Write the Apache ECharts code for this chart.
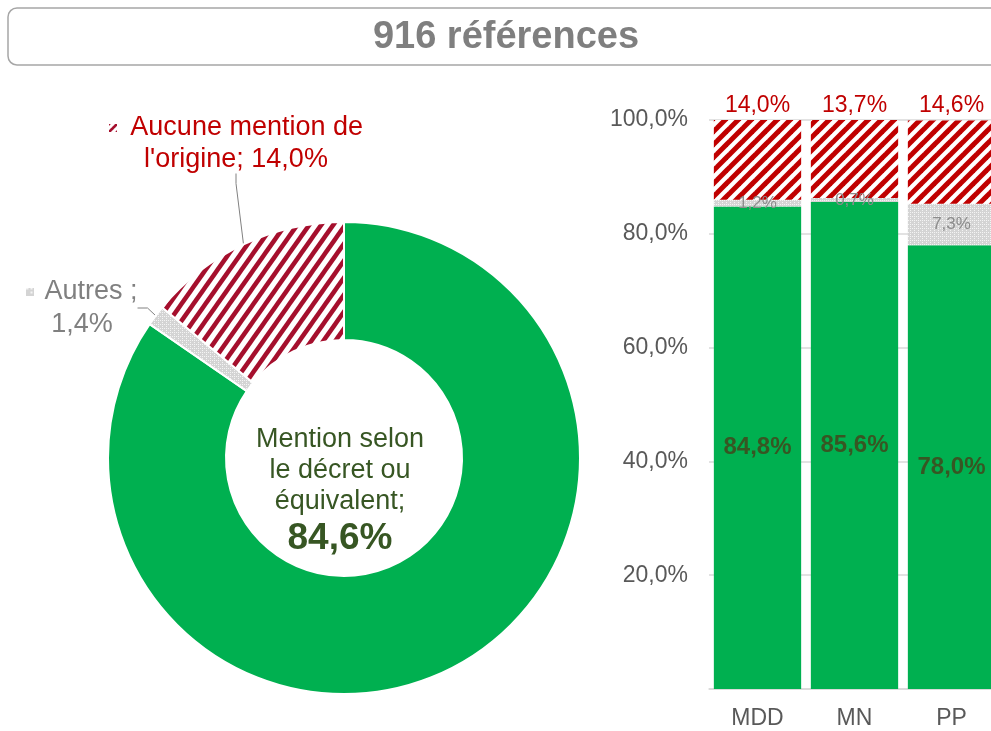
<!DOCTYPE html>
<html>
<head>
<meta charset="utf-8">
<script src="https://cdn.jsdelivr.net/npm/echarts@6/dist/echarts.min.js"></script>
<style>
  html, body { margin: 0; padding: 0; background: #fff; }
  #chart { width: 991px; height: 731px; }
</style>
</head>
<body>
<div id="chart"></div>
<script>
// Répartition des mentions d'origine (916 références)

const titleText = '916 références';

const pieNames = ['Mention selon le décret ou équivalent', 'Autres', "Aucune mention de l'origine"];
const pieValues = [84.6, 1.4, 14.0];

const categories = ['MDD', 'MN', 'PP'];
const mentionValues = [84.8, 85.6, 78.0];
const autresValues = [1.2, 0.7, 7.3];
const aucuneValues = [14.0, 13.7, 14.6];

const yTicks = [0, 20, 40, 60, 80, 100];

const FONT = '"Liberation Sans", Arial, sans-serif';
const GREEN = '#00b050';
const DARK_GREEN = '#375623';
const RED = '#c00000';
const GREY = '#7f7f7f';

const pct = v => v.toFixed(1).replace('.', ',') + '%';

// motifs (hachures, pointillé gris) - tuile w x h, trait diagonal prolongé hors tuile
function hatch(color, w, h, width) {
    const c = document.createElement('canvas');
    c.width = w; c.height = h;
    const ctx = c.getContext('2d');
    ctx.fillStyle = '#fff';
    ctx.fillRect(0, 0, w, h);
    ctx.strokeStyle = color;
    ctx.lineWidth = width;
    [-w, 0, w].forEach(o => {
        ctx.beginPath();
        ctx.moveTo(o - w, 2 * h);
        ctx.lineTo(o + 2 * w, -h);
        ctx.stroke();
    });
    return c;
}

function dots() {
    const c = document.createElement('canvas');
    c.width = 4; c.height = 4;
    const ctx = c.getContext('2d');
    ctx.fillStyle = '#d4d4d4';
    ctx.fillRect(0, 0, 4, 4);
    ctx.fillStyle = '#f4f4f4';
    ctx.fillRect(0, 0, 1, 1);
    ctx.fillRect(2, 2, 1, 1);
    ctx.fillRect(2, 0, 1, 1);
    return c;
}

const barHatch = { image: hatch(RED, 13, 13, 5), repeat: 'repeat' };
const pieHatch = { image: hatch('#a50f2d', 12, 17, 4.5), repeat: 'repeat' };
const greyDots = { image: dots(), repeat: 'repeat' };

const pieLabelPos = [
    { x: 340, y: 492 },
    { x: 82, y: 308 },
    { x: 236, y: 144 }
];

const chart = echarts.init(document.getElementById('chart'));

chart.setOption({
    animation: false,
    textStyle: { fontFamily: FONT },
    graphic: [
        {
            type: 'rect',
            shape: { x: 8, y: 8, width: 1010, height: 57, r: 9 },
            style: { fill: 'none', stroke: '#a6a6a6', lineWidth: 1.5 }
        },
        {
            type: 'text',
            x: 506, y: 38,
            style: {
                text: titleText,
                fontFamily: FONT, fontSize: 38, fontWeight: 'bold',
                fill: GREY, align: 'center', verticalAlign: 'middle'
            }
        }
    ],
    grid: { left: 709, right: -9, top: 120, bottom: 42, outerBoundsMode: 'none' },
    xAxis: {
        type: 'category',
        data: categories,
        axisLine: { lineStyle: { color: '#d9d9d9', width: 1.5 } },
        axisTick: { show: false },
        axisLabel: { color: '#595959', fontSize: 23, margin: 18, fontFamily: FONT }
    },
    yAxis: {
        type: 'value',
        min: yTicks[0],
        max: yTicks[yTicks.length - 1],
        interval: 20,
        axisLine: { show: false },
        axisTick: { show: false },
        splitLine: { lineStyle: { color: '#d9d9d9', width: 1.5 } },
        axisLabel: {
            color: '#595959', fontSize: 23, margin: 21, fontFamily: FONT,
            formatter: v => (v === 0 ? '' : pct(v))
        }
    },
    series: [
        {
            type: 'pie',
            center: [344, 458],
            radius: [118, 236],
            startAngle: 90,
            clockwise: true,
            avoidLabelOverlap: false,
            itemStyle: { borderColor: '#fff', borderWidth: 2 },
            labelLine: { show: true, length: 10, length2: 10, lineStyle: { color: '#808080', width: 1 } },
            labelLayout: p => Object.assign({ align: 'center', verticalAlign: 'middle' }, pieLabelPos[p.dataIndex]),
            data: [
                {
                    name: pieNames[0], value: pieValues[0],
                    itemStyle: { color: GREEN },
                    labelLine: { show: false },
                    label: {
                        position: 'center',
                        formatter: p => '{t|Mention selon\nle décret ou\néquivalent;}\n{b|' + pct(p.value) + '}',
                        rich: {
                            t: { fontSize: 27, lineHeight: 31, color: DARK_GREEN, fontFamily: FONT, align: 'center' },
                            b: { fontSize: 37, lineHeight: 42, color: DARK_GREEN, fontWeight: 'bold', fontFamily: FONT, align: 'center' }
                        }
                    }
                },
                {
                    name: pieNames[1], value: pieValues[1],
                    itemStyle: { color: greyDots },
                    label: {
                        position: 'outside',
                        formatter: p => '{i|}   {t|Autres ;}\n{t|' + pct(p.value) + '}',
                        rich: {
                            i: { width: 8, height: 8, backgroundColor: greyDots },
                            t: { fontSize: 27, lineHeight: 33, color: '#808080', fontFamily: FONT }
                        }
                    }
                },
                {
                    name: pieNames[2], value: pieValues[2],
                    itemStyle: { color: pieHatch },
                    label: {
                        position: 'outside',
                        formatter: p => '{i|}    {t|Aucune mention de}\n{t|l\'origine; ' + pct(p.value) + '}',
                        rich: {
                            i: { width: 8, height: 8, backgroundColor: pieHatch },
                            t: { fontSize: 27, lineHeight: 32, color: RED, fontFamily: FONT }
                        }
                    }
                }
            ]
        },
        {
            type: 'bar',
            name: pieNames[0],
            stack: 'total',
            barCategoryGap: '10%',
            data: mentionValues,
            itemStyle: { color: GREEN },
            label: {
                show: true, position: 'inside',
                color: DARK_GREEN, fontSize: 24, fontWeight: 'bold', fontFamily: FONT,
                formatter: p => pct(p.value)
            }
        },
        {
            type: 'bar',
            name: pieNames[1],
            stack: 'total',
            data: autresValues,
            itemStyle: { color: greyDots },
            label: {
                show: true, position: 'inside',
                color: '#8c8c8c', fontSize: 17, fontFamily: FONT,
                formatter: p => pct(p.value)
            }
        },
        {
            type: 'bar',
            name: pieNames[2],
            stack: 'total',
            data: aucuneValues,
            itemStyle: { color: barHatch },
            label: {
                show: true, position: 'top', distance: 3,
                color: RED, fontSize: 23, fontFamily: FONT,
                formatter: p => pct(p.value)
            }
        }
    ]
});

window.addEventListener('resize', () => chart.resize());
</script>
</body>
</html>
